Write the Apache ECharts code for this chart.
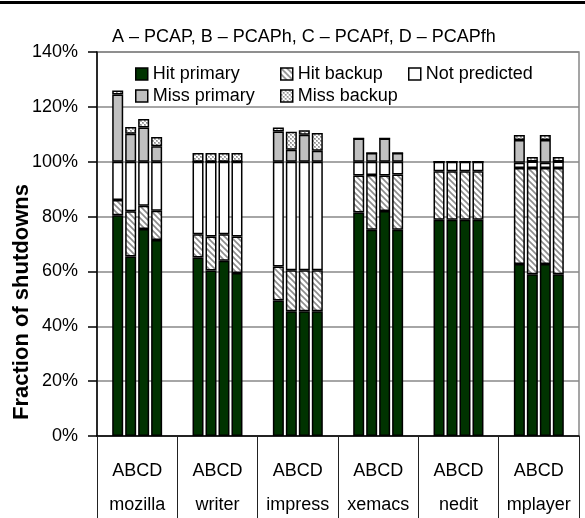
<!DOCTYPE html>
<html><head><meta charset="utf-8">
<script src="https://cdn.jsdelivr.net/npm/echarts@6/dist/echarts.min.js"></script>
<style>html,body{margin:0;padding:0;background:#fff}#c{width:585px;height:518px}</style>
</head><body><div id="c"></div>
<script>
// ---------- data ----------
const groups = ['mozilla', 'writer', 'impress', 'xemacs', 'nedit', 'mplayer'];
const configs = ['A', 'B', 'C', 'D'];
const componentNames = ['Hit primary', 'Hit backup', 'Not predicted', 'Miss primary', 'Miss backup'];
const yTicks = [0, 20, 40, 60, 80, 100, 120, 140];
const chartTitle = 'A – PCAP, B – PCAPh, C – PCAPf, D – PCAPfh';
const yName = 'Fraction of shutdowns';

// percent of shutdowns, one value per group (mozilla..mplayer)
const hitPrimaryA   = [80.5, 65.1, 49.4, 81.5, 78.8, 62.7];
const hitPrimaryB   = [65.4, 60.3, 45.5, 75.2, 78.8, 59.0];
const hitPrimaryC   = [75.5, 63.9, 45.5, 82.0, 78.8, 62.7];
const hitPrimaryD   = [71.5, 59.4, 45.5, 75.2, 78.8, 59.0];

const hitBackupA    = [5.5, 8.5, 12.4, 13.5, 17.7, 35.0];
const hitBackupB    = [16.5, 12.4, 14.9, 20.0, 17.7, 38.7];
const hitBackupC    = [8.4, 9.7, 14.9, 13.0, 17.7, 35.0];
const hitBackupD    = [10.6, 13.3, 14.9, 20.1, 17.7, 38.7];

const notPredA      = [14.0, 26.4, 38.2, 5.0, 3.5, 1.9];
const notPredB      = [18.1, 27.3, 39.6, 4.8, 3.5, 2.4];
const notPredC      = [16.1, 26.4, 39.6, 5.0, 3.5, 1.9];
const notPredD      = [17.9, 27.3, 39.6, 4.7, 3.5, 2.4];

const missPrimaryA  = [24.5, 0, 11.0, 8.5, 0, 8.3];
const missPrimaryB  = [10.2, 0, 4.4, 3.2, 0, 0];
const missPrimaryC  = [12.5, 0, 9.8, 8.5, 0, 8.3];
const missPrimaryD  = [5.6, 0, 4.0, 3.2, 0, 0];

const missBackupA   = [1.5, 3.2, 1.5, 0, 0, 1.8];
const missBackupB   = [2.5, 3.2, 6.5, 0, 0, 1.6];
const missBackupC   = [3.1, 3.2, 1.7, 0, 0, 1.8];
const missBackupD   = [3.4, 3.2, 6.5, 0, 0, 1.6];

// ---------- patterns ----------
function hatchPattern() {
  const c = document.createElement('canvas'); c.width = c.height = 6;
  const g = c.getContext('2d');
  g.fillStyle = '#fff'; g.fillRect(0, 0, 6, 6);
  g.strokeStyle = '#8c8c8c'; g.lineWidth = 1.6;
  g.beginPath();
  g.moveTo(-1, -1); g.lineTo(7, 7);
  g.moveTo(-1, 5); g.lineTo(1, 7);
  g.moveTo(5, -1); g.lineTo(7, 1);
  g.stroke();
  return { image: c, repeat: 'repeat' };
}
function dotPattern() {
  const c = document.createElement('canvas'); c.width = c.height = 4;
  const g = c.getContext('2d');
  g.fillStyle = '#fff'; g.fillRect(0, 0, 4, 4);
  g.fillStyle = '#b4b4b4';
  g.fillRect(0, 0, 2, 2); g.fillRect(2, 2, 2, 2);
  g.fillStyle = '#8a8a8a';
  g.fillRect(0, 0, 1, 1); g.fillRect(2, 2, 1, 1);
  return { image: c, repeat: 'repeat' };
}

const fills = ['#003300', hatchPattern(), '#ffffff', '#c0c0c0', dotPattern()];
const table = {
  A: [hitPrimaryA, hitBackupA, notPredA, missPrimaryA, missBackupA],
  B: [hitPrimaryB, hitBackupB, notPredB, missPrimaryB, missBackupB],
  C: [hitPrimaryC, hitBackupC, notPredC, missPrimaryC, missBackupC],
  D: [hitPrimaryD, hitBackupD, notPredD, missPrimaryD, missBackupD]
};

const FONT = 'Liberation Sans, Arial, sans-serif';
const series = [];
configs.forEach(cfg => {
  componentNames.forEach((nm, i) => {
    series.push({
      type: 'bar', name: nm, stack: cfg,
      barWidth: 11, barGap: '18%',
      itemStyle: { color: fills[i], borderColor: '#000', borderWidth: 1.5 },
      emphasis: { disabled: true },
      data: table[cfg][i]
    });
  });
});

function legendAt(name, left, top) {
  return {
    data: [name], left: left, top: top, padding: 0, itemGap: 0,
    icon: 'rect', itemWidth: 12, itemHeight: 12, selectedMode: false,
    itemStyle: { borderColor: '#000', borderWidth: 1.5 },
    textStyle: { fontSize: 18, color: '#000', fontFamily: FONT }
  };
}

const chart = echarts.init(document.getElementById('c'), null, { renderer: 'canvas' });
chart.setOption({
  animation: false,
  backgroundColor: '#fff',
  textStyle: { fontFamily: FONT },
  title: {
    text: chartTitle, left: 112, top: 28, padding: 0,
    textStyle: { fontSize: 18, fontWeight: 'normal', color: '#000', fontFamily: FONT }
  },
  legend: [
    legendAt('Hit primary', 135, 65),
    legendAt('Hit backup', 280, 65),
    legendAt('Not predicted', 408, 65),
    legendAt('Miss primary', 135, 87),
    legendAt('Miss backup', 280, 87)
  ],
  grid: {
    left: 97, right: 6, top: 52, bottom: 82,
    show: true, borderColor: '#888', borderWidth: 1.5, backgroundColor: '#fff'
  },
  xAxis: {
    type: 'category', data: groups,
    axisLine: { lineStyle: { color: '#000', width: 1.5 } },
    axisTick: { show: true, alignWithLabel: false, length: 82, lineStyle: { color: '#222', width: 1 } },
    axisLabel: {
      margin: 18, interval: 0,
      formatter: v => '{a|ABCD}\n{b|' + v + '}',
      rich: {
        a: { fontSize: 18, lineHeight: 34, color: '#000', fontFamily: FONT },
        b: { fontSize: 18, lineHeight: 34, color: '#000', fontFamily: FONT }
      }
    },
    splitLine: { show: false }
  },
  yAxis: {
    type: 'value', min: yTicks[0], max: yTicks[yTicks.length - 1], interval: 20,
    axisLine: { show: true, lineStyle: { color: '#000', width: 1.5 } },
    axisTick: { show: true, length: 9, lineStyle: { color: '#000', width: 1.5 } },
    axisLabel: { formatter: '{value}%', fontSize: 18, color: '#000', margin: 19, fontFamily: FONT },
    splitLine: { show: true, lineStyle: { color: '#888', width: 1.5 } }
  },
  graphic: [
    { type: 'rect', shape: { x: 0, y: 1, width: 585, height: 3 }, style: { fill: '#000' }, silent: true },
    {
      type: 'text', x: 22, y: 302, rotation: Math.PI / 2, silent: true,
      style: { text: yName, font: 'bold 22px ' + FONT, fill: '#000', textAlign: 'center', textVerticalAlign: 'middle' }
    }
  ],
  series: series
});
</script></body></html>
